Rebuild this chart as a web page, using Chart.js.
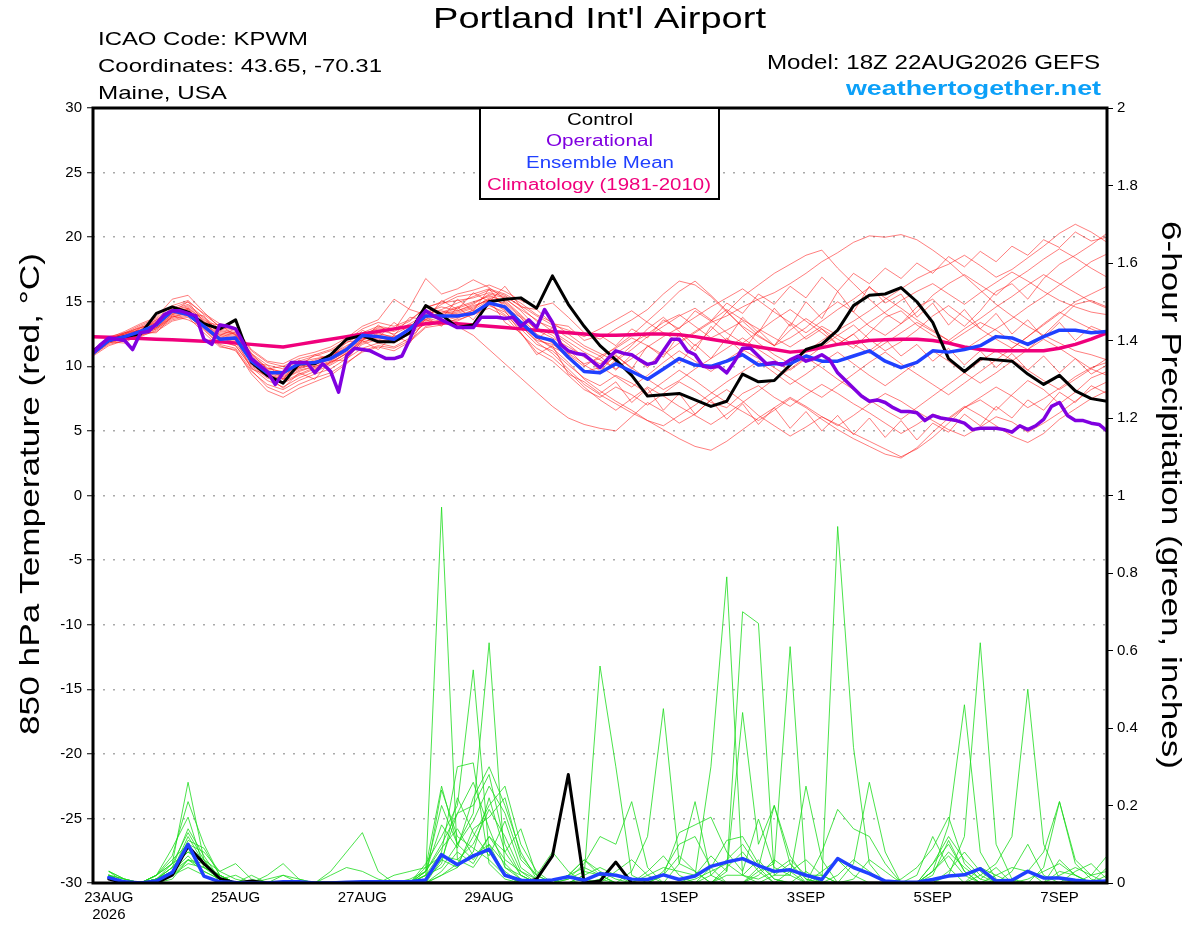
<!DOCTYPE html>
<html>
<head>
<meta charset="utf-8">
<script src="https://cdn.jsdelivr.net/npm/chart.js@4/dist/chart.umd.min.js"></script>
<style>html,body{margin:0;padding:0;background:#fff;}canvas{display:block;}</style>
</head>
<body>
<canvas id="c" width="1200" height="927"></canvas>
<script>
// ---------------- DATA ----------------
// x index: 0 = 18Z 22AUG2026, step 6 h, 64 = 18Z 07SEP2026
const xTickIdx    = [1, 9, 17, 25, 37, 45, 53, 61];
const xTickLabels = ['23AUG','25AUG','27AUG','29AUG','1SEP','3SEP','5SEP','7SEP'];
const xTickSub    = ['2026','','','','','','',''];

// 850 hPa temperature (°C), 6-hourly
const tempControl = [11.2,12.0,12.3,12.5,14.1,14.6,14.2,13.3,
 12.9,13.6,10.3,9.3,8.7,10.2,10.2,10.9,
 12.1,12.4,11.9,11.9,12.6,14.7,14.0,13.0,
 13.2,15.0,15.2,15.3,14.5,17.0,14.8,13.1,
 11.6,10.5,9.3,7.7,7.8,7.9,7.4,6.9,
 7.3,9.4,8.8,8.9,10.1,11.3,11.7,12.8,
 14.7,15.5,15.6,16.1,15.0,13.4,10.6,9.6,
 10.6,10.5,10.4,9.4,8.6,9.3,8.1,7.5,
 7.3];
const tempMean = [11.0,12.0,12.3,12.7,13.2,14.3,14.0,13.1,
 12.1,12.2,10.4,9.5,9.5,10.2,10.3,10.6,
 11.3,12.4,12.3,12.1,12.9,13.9,13.9,13.9,
 14.1,14.9,14.6,13.4,12.3,12.0,10.7,9.6,
 9.5,10.2,9.6,9.0,9.8,10.6,10.1,10.0,
 10.4,10.9,10.1,10.2,10.2,10.8,10.4,10.4,
 10.8,11.2,10.4,9.9,10.3,11.2,11.1,11.3,
 11.6,12.3,12.2,11.7,12.3,12.8,12.8,12.6,
 12.7];
const tempClim = [12.3,12.25,12.2,12.15,12.1,12.05,12.0,11.95,
 11.9,11.8,11.7,11.6,11.5,11.7,11.9,12.1,
 12.3,12.5,12.7,12.9,13.1,13.3,13.4,13.3,
 13.2,13.1,13.0,12.9,12.8,12.7,12.6,12.5,
 12.4,12.4,12.45,12.5,12.5,12.45,12.3,12.1,
 11.9,11.7,11.5,11.3,11.1,11.2,11.45,11.7,
 11.85,12.0,12.05,12.1,12.1,12.0,11.8,11.5,
 11.3,11.2,11.2,11.2,11.2,11.4,11.7,12.1,
 12.6];
// operational run, 3-hourly (index k -> x = k/2)
const tempOper = [11.1,11.7,12.2,12.1,12.0,11.3,12.6,12.7,13.3,14.0,
 14.3,14.3,14.1,13.9,12.1,11.7,13.2,13.1,12.9,11.8,
 10.6,10.1,9.6,8.6,9.5,10.3,10.3,10.3,9.5,10.2,
 9.6,8.0,10.8,11.4,11.3,11.2,10.9,10.6,10.6,10.8,
 12.1,13.6,14.3,13.9,13.6,13.3,13.0,13.0,13.0,13.8,
 13.8,13.8,13.7,13.8,13.1,13.6,13.0,14.4,13.4,11.7,
 11.2,11.0,10.9,10.4,9.9,10.6,11.2,11.0,10.9,10.5,
 10.15,10.3,11.2,12.1,12.1,11.2,10.9,10.0,9.9,10.0,
 9.5,10.4,11.4,11.4,10.8,10.2,10.3,10.1,10.5,10.8,
 10.4,10.6,10.9,10.5,9.5,8.9,8.3,7.7,7.3,7.4,
 7.2,6.8,6.5,6.5,6.4,5.8,6.2,6.0,5.9,5.8,
 5.6,5.1,5.2,5.2,5.2,5.1,4.9,5.4,5.1,5.4,
 5.9,6.9,7.2,6.2,5.8,5.8,5.6,5.5,5.0];

const tempMembers = [
 [11.2,12.1,12.4,12.9,13.4,14.2,14.5,13.6, 12.8,12.5,10.8,9.8,9.6,10.1,10.5,10.9, 11.6,12.2,12.0,11.9,12.6,13.8,14.2,14.6, 15.0,15.4,15.1,14.0,12.8,12.2,11.5,10.8, 10.2,11.0,11.8,12.5,13.4,14.0,13.1,12.2, 12.8,13.5,12.4,11.6,12.2,13.0,14.1,15.0, 14.2,13.1,12.4,13.3,14.6,15.2,14.0,13.1, 14.3,15.8,16.4,15.2,16.8,17.9,18.6,19.4, 20.3],
 [11.0,11.8,12.2,12.5,12.9,13.8,14.1,13.4, 12.2,11.8,10.1,9.2,8.8,9.4,9.9,10.2, 11.0,12.0,12.6,12.2,12.9,13.6,13.2,13.7, 14.4,15.1,14.3,12.6,11.1,10.4,9.3,8.2, 7.6,8.4,7.8,7.0,7.9,8.8,8.1,7.2, 6.8,7.9,8.5,7.6,6.9,7.8,8.6,7.9, 7.1,6.4,5.6,4.8,5.5,6.3,5.9,6.8, 7.4,6.6,7.8,8.9,8.2,7.1,8.0,9.1, 9.6],
 [11.3,12.3,12.6,13.2,13.7,14.7,15.1,14.0, 13.1,12.9,11.2,10.3,10.0,10.6,10.9,11.3, 12.0,12.9,13.4,13.1,13.6,14.5,15.0,15.6, 15.9,16.3,15.8,15.1,14.6,14.9,13.8,12.6, 12.1,12.9,13.6,14.4,15.6,16.6,16.3,15.4, 14.2,13.1,12.3,11.6,12.8,13.7,12.9,12.1, 11.4,12.6,13.8,14.3,13.2,12.4,11.8,12.6, 13.4,12.8,11.9,11.3,12.4,13.6,14.8,15.1, 14.6],
 [10.9,11.7,12.0,12.3,12.8,13.6,13.9,12.9, 11.6,11.2,9.6,8.6,8.2,8.9,9.4,9.8, 10.6,11.4,11.8,11.5,12.2,13.4,13.6,13.1, 12.4,11.3,10.2,9.1,8.0,6.9,6.0,5.5, 5.2,5.0,6.1,7.2,6.5,5.6,6.3,7.4, 8.2,7.3,6.2,5.4,4.6,5.3,6.1,5.5, 4.8,4.2,3.6,3.0,3.6,4.5,5.6,6.8, 7.6,8.4,7.7,6.8,7.5,8.3,9.2,9.9, 10.3],
 [11.1,12.0,12.5,12.8,13.2,14.1,14.4,13.3, 12.4,12.2,10.6,9.6,9.2,9.8,10.2,10.5, 11.1,11.9,12.2,12.0,12.9,14.2,14.6,14.3, 14.8,15.6,15.3,14.3,13.0,12.4,11.3,10.1, 9.4,10.5,11.6,12.9,13.8,12.7,11.6,12.8, 14.2,15.4,16.3,17.2,17.9,18.6,19.0,17.6, 16.4,15.2,14.1,13.3,14.2,15.5,16.4,17.1, 16.3,15.5,16.6,17.4,18.3,19.1,18.4,17.6, 16.9],
 [11.2,12.2,12.5,13.0,13.5,14.4,14.8,13.8, 12.9,12.6,10.9,9.9,9.5,10.3,10.6,10.8, 11.5,12.5,12.9,12.7,13.3,14.0,14.4,14.9, 15.4,15.9,15.5,14.6,13.5,13.0,12.2,11.4, 10.8,11.4,12.2,11.6,10.9,11.8,12.6,13.4, 13.9,14.6,15.2,15.7,16.4,17.2,18.1,18.8, 19.6,20.1,20.0,20.2,19.8,19.0,18.1,17.0, 15.9,14.8,13.9,13.1,12.4,11.8,11.2,10.9, 10.5],
 [11.0,11.9,12.3,12.6,13.0,13.9,14.2,13.2, 12.0,11.6,9.9,8.9,8.4,9.1,9.6,10.1, 10.8,11.7,12.1,11.8,12.5,13.3,13.5,13.8, 14.2,14.8,14.0,12.9,11.7,11.2,10.1,9.1, 8.5,9.3,8.7,7.9,8.8,9.7,8.9,8.0, 7.2,6.5,5.8,6.6,7.5,6.8,5.9,5.1, 4.4,3.8,3.2,2.9,3.7,4.9,6.0,6.9, 6.2,5.4,4.6,4.1,4.8,5.9,6.7,7.5, 8.1],
 [11.2,12.1,12.4,12.7,13.1,14.0,14.3,13.1, 12.3,12.0,10.3,9.4,9.0,9.7,10.0,10.4, 11.2,12.1,12.5,12.3,12.8,13.6,14.0,14.2, 14.6,15.2,14.9,13.8,12.5,11.8,10.6,9.6, 9.9,10.8,9.9,9.0,8.2,8.9,9.8,10.6, 11.4,12.2,11.3,10.5,9.7,10.6,11.5,12.4, 13.2,12.1,11.2,11.9,12.8,13.9,14.7,13.8, 12.9,12.1,11.4,12.3,13.3,14.2,13.5,12.9, 12.4],
 [11.1,12.0,12.4,12.8,13.3,14.3,14.6,13.5, 12.6,12.4,10.5,9.5,9.1,9.9,10.4,10.8, 11.4,12.3,12.8,12.5,13.1,14.1,14.3,14.0, 14.3,14.7,14.2,13.1,12.0,11.7,11.0,10.2, 10.6,11.5,12.4,13.5,14.6,15.8,16.6,15.5, 14.3,13.0,11.8,10.9,10.2,11.1,12.0,12.8, 13.5,14.3,15.2,16.0,16.8,17.4,17.9,18.6, 17.8,16.9,17.5,18.4,19.3,20.3,21.0,20.4, 19.6],
 [10.9,11.8,12.1,12.4,12.9,13.7,14.0,12.8, 11.7,11.4,9.7,8.4,7.9,8.6,9.1,9.5, 10.3,11.1,11.5,11.2,11.9,13.0,13.2,13.5, 14.1,15.0,14.6,13.2,11.9,11.0,9.8,8.6, 7.8,7.1,6.4,5.8,5.1,4.4,3.8,3.5, 4.2,5.1,6.0,6.8,7.6,6.9,6.1,5.4, 6.2,7.1,7.9,7.3,6.5,5.8,5.1,4.6, 5.3,6.1,5.7,4.9,5.6,6.4,7.3,8.2, 8.8],
 [11.3,12.2,12.5,13.1,13.6,14.5,15.0,14.1, 13.3,13.0,11.3,10.4,10.2,10.8,11.1,11.5, 12.2,13.1,13.6,15.2,14.4,14.0,14.8,15.4, 15.6,16.0,15.6,14.9,14.0,13.4,12.5,11.6, 11.0,10.4,11.3,12.3,13.1,13.9,14.5,13.6, 12.6,11.8,12.7,13.6,14.4,13.5,12.6,11.7, 12.5,13.4,14.2,15.1,15.8,16.4,15.6,14.8, 15.7,16.5,17.3,16.6,15.8,15.1,14.6,14.2, 14.0],
 [11.0,11.9,12.2,12.6,13.0,13.8,14.2,13.0, 11.9,11.6,10.0,9.1,8.7,9.3,9.8,10.3, 11.0,11.8,12.3,12.0,12.6,13.5,13.8,14.1, 14.5,15.3,14.8,13.5,12.2,11.4,10.3,9.0, 8.1,7.3,6.6,5.8,5.4,6.2,7.0,7.9, 8.8,9.6,10.4,9.5,8.6,9.4,10.3,11.1, 10.2,9.3,8.5,9.4,10.3,11.2,10.4,9.5, 8.7,9.5,10.4,11.3,12.1,11.4,10.6,9.8, 9.3],
 [11.2,12.0,12.3,12.7,13.2,14.1,14.4,13.3, 12.5,12.3,10.4,9.3,9.0,9.6,10.0,10.3, 11.0,12.1,12.3,11.9,12.7,13.8,14.1,14.5, 14.9,15.5,15.0,13.9,12.8,12.6,11.7,10.7, 10.0,9.2,8.4,9.3,10.3,11.2,10.4,9.6, 10.5,11.3,10.6,9.9,9.1,8.3,7.6,8.5, 9.4,10.3,11.1,10.2,9.4,8.6,7.8,8.7, 9.6,10.5,11.4,12.3,13.2,14.1,15.0,15.6, 16.2],
 [11.1,12.1,12.6,13.0,13.4,14.3,14.7,13.7, 12.7,12.5,10.7,9.7,9.4,10.0,10.3,10.7, 11.3,12.4,13.0,12.8,14.6,16.8,15.6,16.0, 16.7,16.1,15.2,14.4,13.6,12.7,11.9,11.1, 10.5,9.8,10.6,11.5,12.3,13.0,13.8,14.6, 15.3,16.0,15.1,14.2,13.4,12.6,13.5,14.4, 15.2,16.1,15.3,14.5,13.6,12.8,12.0,12.9, 13.7,14.6,15.4,16.3,17.1,16.4,15.7,15.0, 14.5],
 [10.8,11.6,12.0,12.4,12.7,13.5,13.8,12.6, 11.5,11.3,9.4,8.1,7.6,8.3,8.8,9.3, 10.2,11.2,11.6,11.4,12.0,13.1,13.4,13.6, 14.0,14.5,13.9,12.5,11.4,10.7,9.6,8.4, 7.4,6.6,7.5,8.4,7.7,6.9,6.2,5.5, 6.3,7.2,8.1,9.0,9.8,10.7,9.9,9.0, 8.2,7.4,6.6,5.9,6.8,7.7,8.6,9.5, 10.4,11.2,10.5,9.7,8.9,8.2,9.0,9.8, 10.6],
 [11.2,12.2,12.7,13.3,13.8,15.2,15.5,14.2, 13.0,12.8,11.0,10.1,9.8,10.4,10.8,11.2, 11.8,12.6,13.1,12.9,13.5,14.6,14.9,15.1, 15.3,15.7,15.4,14.7,13.9,13.2,12.8,12.3, 12.9,13.6,14.3,13.4,12.6,11.9,12.7,13.5, 14.4,13.6,12.9,12.2,11.5,12.3,13.1,12.4, 11.7,11.0,11.8,12.6,13.4,12.7,12.0,11.3, 12.1,12.9,13.7,14.6,15.4,16.3,17.2,18.1, 18.7],
 [11.1,12.3,12.1,13.0,13.3,14.6,14.1,13.9, 12.4,12.9,10.2,10.1,9.0,10.5,9.7,11.0, 11.2,12.8,12.2,13.4,12.5,14.4,13.7,15.2, 14.3,16.0,14.5,13.8,12.1,13.0,11.0,10.9, 9.6,10.9,9.8,11.6,10.7,12.5,11.2,13.1, 12.0,13.8,12.6,14.5,13.1,15.0,13.7,15.8, 14.2,16.2,14.9,15.6,13.8,14.9,13.2,14.4, 12.9,14.1,12.5,13.6,12.2,13.4,12.0,13.1, 12.6],
 [10.9,11.9,11.8,12.6,12.6,13.9,13.6,13.0, 11.8,12.1,9.8,9.3,8.3,9.5,9.0,10.4, 10.5,12.0,11.3,12.4,11.8,13.8,13.1,14.6, 13.6,15.2,13.4,12.6,10.9,11.6,9.4,8.8, 7.9,8.8,7.2,8.3,6.6,7.9,6.3,7.4, 5.9,7.1,5.5,6.8,5.2,6.5,5.0,6.2, 4.7,6.0,4.5,5.8,4.3,5.6,4.9,6.3, 5.4,6.9,6.0,7.4,6.6,8.0,7.2,8.5, 7.9],
 [11.3,12.0,12.6,12.8,13.6,14.2,15.0,13.4, 13.2,12.4,11.0,9.8,10.0,10.0,10.9,10.6, 11.9,12.0,13.2,12.4,13.8,13.6,15.1,14.4, 15.7,15.0,16.2,14.6,14.4,13.3,13.1,12.0, 12.4,11.6,12.9,12.2,13.6,12.9,14.3,13.5, 14.9,14.1,15.6,14.8,16.2,15.3,16.9,15.8, 17.2,16.4,17.6,16.8,18.0,17.2,18.5,17.7, 18.9,18.1,19.3,18.6,19.8,19.2,20.4,19.7, 20.0],
 [11.0,12.1,12.3,12.5,13.0,14.0,14.5,13.2, 12.2,12.7,10.6,9.6,9.3,9.9,10.1,10.6, 11.3,12.2,12.4,12.2,13.0,13.9,14.1,14.3, 14.7,15.1,14.4,13.2,12.2,11.5,10.9,10.0, 10.8,9.7,10.9,9.9,11.3,10.2,11.7,10.6, 12.2,11.1,12.8,11.6,13.3,12.1,12.9,11.7, 12.5,11.2,12.1,10.8,11.7,10.4,11.4,10.1, 11.2,9.9,11.0,9.7,10.8,9.5,10.6,9.4, 10.1]
];

// 6-hour precipitation (inches); index 0 has no value
const precipControl = [null, 0.01,0,0,0,0.02,0.095,0.05,0.012, 0,0.005,0,0,0,0,0,0, 0,0,0,0,0,0,0,0, 0,0,0,0.01,0.07,0.28,0,0.005, 0.054,0,0,0,0,0,0,0, 0,0,0,0,0,0,0,0, 0,0,0,0,0,0,0,0, 0,0,0,0,0,0,0,0];
const precipMean = [null, 0.014,0.003,0,0.005,0.027,0.10,0.018,0.003, 0.001,0,0,0.003,0.003,0,0,0.002, 0.003,0.003,0.003,0.003,0.008,0.073,0.047,0.07, 0.087,0.02,0.007,0.005,0.008,0.016,0.007,0.024, 0.02,0.01,0.009,0.021,0.009,0.018,0.043,0.054, 0.063,0.045,0.03,0.034,0.02,0.009,0.063,0.04, 0.024,0.005,0.002,0.002,0.009,0.018,0.021,0.037, 0.005,0.007,0.03,0.013,0.013,0.007,0.003,0.005];
const precipMembers = [
 [null, 0.02,0,0,0.01,0.05,0.26,0.06,0, 0,0,0,0,0,0,0,0, 0,0,0,0,0.02,0.97,0.06,0.04, 0.1,0.02,0,0,0,0,0,0.01, 0,0,0,0,0.05,0.21,0.02,0, 0,0,0,0,0.03,0,0,0, 0,0,0,0,0,0,0,0, 0,0,0,0,0.06,0.02,0,0],
 [null, 0.03,0.01,0,0.02,0.09,0.17,0.04,0.01, 0.02,0,0,0,0,0,0,0, 0,0,0,0,0.05,0.12,0.2,0.55, 0.08,0.03,0,0,0,0,0.02,0.56, 0.3,0.02,0,0,0,0,0,0, 0,0,0.02,0.05,0.01,0,0,0, 0,0,0,0,0,0,0,0.02, 0.05,0.12,0.5,0.1,0.01,0,0,0],
 [null, 0.02,0,0,0.01,0.03,0.12,0.05,0.02, 0,0,0,0,0,0,0,0, 0,0,0.02,0.03,0.04,0.25,0.1,0.18, 0.62,0.04,0.02,0,0,0,0,0, 0,0,0.02,0.04,0.03,0.02,0.3,0.79, 0.02,0.06,0.01,0,0,0,0,0, 0,0,0,0,0.03,0.08,0.04,0.01, 0.04,0,0,0,0,0,0,0.02],
 [null, 0.01,0,0,0.02,0.06,0.1,0.08,0.03, 0.05,0.01,0,0,0,0,0,0, 0,0,0,0,0.02,0.08,0.3,0.31, 0.05,0.01,0,0,0,0.02,0.06,0.02, 0,0,0,0,0,0.02,0.07,0.03, 0.7,0.67,0.02,0.02,0,0,0,0, 0,0,0,0,0,0.02,0.12,0.62, 0.1,0.01,0,0,0,0,0,0],
 [null, 0.02,0,0,0,0.03,0.07,0.03,0.01, 0,0,0,0,0,0,0.03,0.08, 0.13,0.03,0,0,0.01,0.24,0.12,0.09, 0.06,0.02,0,0,0,0,0,0, 0,0.03,0.12,0.45,0.05,0.03,0,0, 0,0.04,0.2,0.07,0.01,0,0,0, 0,0,0.01,0.04,0.09,0.17,0.05,0.01, 0,0,0,0,0,0,0,0],
 [null, 0.03,0.01,0,0.01,0.04,0.09,0.02,0, 0,0.02,0,0,0,0,0,0, 0,0,0,0,0,0.06,0.18,0.26, 0.14,0.04,0.01,0,0,0,0,0, 0,0,0,0,0,0,0,0.02, 0.02,0.01,0.03,0.06,0.02,0,0.92,0.35, 0.05,0,0,0,0,0,0,0, 0,0,0.03,0.08,0.21,0.06,0.02,0.03],
 [null, 0.01,0,0,0.01,0.02,0.05,0.04,0.02, 0,0,0.02,0.05,0.01,0,0,0, 0,0,0,0,0.02,0.04,0.1,0.16, 0.25,0.18,0.06,0.02,0,0,0.01,0, 0,0,0,0,0,0,0,0, 0,0.03,0.05,0.61,0.02,0.02,0,0.05, 0.26,0.08,0,0,0.03,0.15,0.46,0.08, 0.01,0,0,0,0,0,0,0],
 [null, 0.02,0,0,0,0.01,0.06,0.05,0.01, 0,0,0,0,0,0,0,0, 0,0,0,0.01,0.03,0.15,0.09,0.22, 0.3,0.2,0.08,0.01,0,0.02,0.06,0.03, 0.01,0,0,0.02,0.13,0.15,0.17,0.08, 0.03,0.165,0.04,0.02,0.25,0.06,0,0, 0,0,0,0,0.02,0.11,0.03,0, 0,0,0,0.04,0.21,0.05,0.01,0],
 [null, 0.01,0,0,0.01,0.04,0.14,0.07,0.01, 0,0,0,0.02,0,0,0,0, 0,0,0,0,0,0.02,0.05,0.12, 0.2,0.25,0.1,0.03,0,0.01,0.05,0.12, 0.1,0.21,0.04,0,0,0,0,0.03, 0.44,0.1,0.2,0.05,0,0.08,0.19,0.14, 0.12,0.05,0,0,0,0,0,0, 0,0.03,0.1,0.02,0,0,0,0],
 [null, 0.02,0.01,0,0.02,0.05,0.08,0.06,0.03, 0.01,0,0,0,0,0,0,0, 0,0,0,0,0.04,0.07,0.06,0.1, 0.19,0.12,0.03,0,0,0,0,0, 0,0,0,0,0,0,0.04,0.11, 0.12,0.05,0.01,0,0,0,0,0, 0,0,0,0,0.03,0.07,0.02,0, 0,0,0,0,0,0,0.02,0.07],
 [null, 0.01,0,0,0,0.02,0.04,0.02,0, 0,0,0,0,0,0,0,0, 0,0,0,0,0,0.03,0.08,0.05, 0.12,0.08,0.14,0.02,0.08,0.03,0,0, 0,0,0,0.02,0.07,0.03,0,0, 0,0,0,0,0,0.03,0.06,0.02, 0,0,0,0.02,0.12,0.04,0,0, 0.02,0.04,0.03,0,0,0,0,0],
 [null, 0.02,0,0,0.01,0.03,0.11,0.09,0.02, 0,0,0.01,0.02,0.01,0,0,0, 0,0,0,0,0,0.02,0.04,0.08, 0.22,0.08,0.02,0,0,0,0.02,0.04, 0.02,0,0,0,0,0.01,0.03,0.05, 0.02,0,0,0.03,0.06,0.02,0,0, 0,0,0,0,0,0,0,0, 0,0,0.01,0.03,0.05,0.02,0,0],
 [null, 0.03,0,0,0.02,0.07,0.21,0.1,0.02, 0,0,0,0,0,0,0.02,0.04, 0.03,0.01,0,0,0.03,0.09,0.14,0.07, 0.1,0.05,0.01,0,0,0,0,0, 0,0,0,0,0,0,0,0, 0,0.02,0.06,0.03,0,0,0,0, 0,0,0,0,0.05,0.1,0.03,0, 0,0,0,0,0.03,0.02,0,0],
 [null, 0.02,0.01,0,0.01,0.02,0.06,0.03,0.01, 0,0,0,0,0,0,0,0, 0,0,0,0,0.01,0.05,0.22,0.13, 0.07,0.16,0.04,0.01,0,0.01,0.03,0.02, 0,0,0.03,0.07,0.02,0,0,0, 0,0,0,0,0,0,0,0.01, 0.06,0.03,0,0,0,0,0,0.04, 0.02,0,0,0,0,0,0,0.04],
 [null, 0.02,0,0,0.01,0.04,0.08,0.05,0.01, 0,0,0,0,0,0,0,0, 0,0,0,0,0.03,0.1,0.18,0.2, 0.28,0.1,0.02,0,0,0,0,0, 0.03,0.06,0.02,0,0,0,0,0.04, 0.08,0.03,0,0,0,0,0,0, 0,0,0,0,0.05,0.12,0.06,0.02, 0,0,0,0,0,0,0,0],
 [null, 0.01,0,0,0.01,0.03,0.06,0.04,0.02, 0,0,0,0,0,0,0,0, 0,0,0,0,0.02,0.06,0.04,0.14, 0.17,0.22,0.07,0.02,0,0,0,0, 0,0,0,0.03,0.1,0.12,0.04,0, 0,0,0,0,0,0,0,0, 0,0,0,0,0,0.03,0.08,0.03, 0,0,0,0,0,0.03,0.05,0.01],
 [null, 0.02,0,0,0.02,0.05,0.13,0.06,0.01, 0,0,0,0,0,0,0,0, 0,0,0,0,0.03,0.2,0.1,0.06, 0.12,0.06,0.03,0.01,0,0.02,0.04,0.02, 0,0,0,0,0,0,0.02,0.06, 0.1,0.04,0,0,0,0,0.02,0.06, 0.03,0,0,0,0,0,0,0, 0,0,0,0,0.02,0.04,0.02,0]
];

// ---------------- CHART ----------------
const FONT = '"Liberation Sans", Arial, Helvetica, sans-serif';
Chart.defaults.font.family = FONT;

const pts6 = arr => arr.map((v, i) => ({x: i, y: v}));
const pts3 = arr => arr.map((v, k) => ({x: k / 2, y: v}));

const datasets = [];
tempMembers.forEach(m => datasets.push({data: pts6(m), yAxisID: 'y', borderColor: 'rgba(255,20,20,0.55)', borderWidth: 1, order: 100}));
precipMembers.forEach(m => datasets.push({data: pts6(m), yAxisID: 'y2', borderColor: 'rgba(30,220,30,0.8)', borderWidth: 1, order: 90}));
datasets.push({data: pts6(precipControl), yAxisID: 'y2', borderColor: '#000', borderWidth: 3, order: 40});
datasets.push({data: pts6(precipMean), yAxisID: 'y2', borderColor: '#2040ff', borderWidth: 3.5, order: 30});
datasets.push({data: pts6(tempClim), yAxisID: 'y', borderColor: '#f0007c', borderWidth: 3.5, order: 25});
datasets.push({data: pts6(tempControl), yAxisID: 'y', borderColor: '#000', borderWidth: 3, order: 20});
datasets.push({data: pts6(tempMean), yAxisID: 'y', borderColor: '#2040ff', borderWidth: 3.5, order: 10});
datasets.push({data: pts3(tempOper), yAxisID: 'y', borderColor: '#8000e0', borderWidth: 3.5, order: 5});

function drawText(ctx, s, x, y, size, width, align, color, bold, rot) {
  ctx.save();
  ctx.translate(x, y);
  if (rot) ctx.rotate(rot);
  ctx.font = (bold ? 'bold ' : '') + size + 'px ' + FONT;
  const m = ctx.measureText(s).width;
  ctx.scale(width / m, 1);
  ctx.textBaseline = 'middle';
  ctx.textAlign = align;
  ctx.fillStyle = color;
  ctx.fillText(s, 0, 0);
  ctx.restore();
}

const decor = {
  id: 'decor',
  beforeDraw(chart) {
    const ctx = chart.ctx;
    ctx.save(); ctx.fillStyle = '#fff'; ctx.fillRect(0, 0, chart.width, chart.height); ctx.restore();
  },
  afterDraw(chart) {
    const ctx = chart.ctx, a = chart.chartArea;
    ctx.save();
    ctx.strokeStyle = '#000'; ctx.lineWidth = 3;
    ctx.strokeRect(a.left, a.top, a.right - a.left, a.bottom - a.top);
    // legend box
    ctx.fillStyle = '#fff'; ctx.fillRect(480, a.top, 239, 91);
    ctx.lineWidth = 2; ctx.strokeRect(480, a.top, 239, 91);
    ctx.restore();
    drawText(ctx, 'Control', 600, 121, 16, 66, 'center', '#000');
    drawText(ctx, 'Operational', 599.5, 142, 16, 107, 'center', '#8000e0');
    drawText(ctx, 'Ensemble Mean', 600, 163.5, 16, 148, 'center', '#2040ff');
    drawText(ctx, 'Climatology (1981-2010)', 599, 185.5, 16, 224, 'center', '#f0007c');
    // header
    drawText(ctx, "Portland Int'l Airport", 599.5, 20, 30, 333, 'center', '#000');
    drawText(ctx, 'ICAO Code: KPWM', 98, 40, 19, 210, 'left', '#000');
    drawText(ctx, 'Coordinates: 43.65, -70.31', 98, 67, 19, 284, 'left', '#000');
    drawText(ctx, 'Maine, USA', 98, 94, 19, 129, 'left', '#000');
    drawText(ctx, 'Model: 18Z 22AUG2026 GEFS', 1100, 64, 19.5, 333, 'right', '#000');
    drawText(ctx, 'weathertogether.net', 1101, 89, 20, 255, 'right', '#0ca0f8', true);
    // axis titles
    drawText(ctx, '850 hPa Temperature (red, \u00B0C)', 31, 494, 28, 482, 'center', '#000', false, -Math.PI / 2);
    drawText(ctx, '6-hour Precipitation (green, inches)', 1170, 495, 28, 548, 'center', '#000', false, Math.PI / 2);
  }
};

new Chart(document.getElementById('c'), {
  type: 'line',
  data: {datasets},
  options: {
    responsive: false,
    animation: false,
    devicePixelRatio: 1,
    layout: {padding: {top: 108, left: 0, right: 0, bottom: 0}},
    plugins: {legend: {display: false}, tooltip: {enabled: false}, title: {display: false}},
    elements: {point: {radius: 0}, line: {tension: 0, borderJoinStyle: 'round', borderCapStyle: 'round'}},
    scales: {
      x: {
        type: 'linear', min: 0, max: 64,
        afterBuildTicks: s => { s.ticks = xTickIdx.map(v => ({value: v})); },
        afterFit: s => { s.height = 44; },
        ticks: {
          autoSkip: false, maxRotation: 0, minRotation: 0, padding: 6, color: '#000',
          font: {size: 15, family: FONT, lineHeight: 1.15},
          callback: v => {
            const j = xTickIdx.indexOf(v);
            if (j < 0) return '';
            return xTickSub[j] ? [xTickLabels[j], xTickSub[j]] : xTickLabels[j];
          }
        },
        grid: {display: false, drawTicks: false},
        border: {display: false}
      },
      y: {
        position: 'left', min: -30, max: 30,
        afterFit: s => { s.width = 93; },
        ticks: {stepSize: 5, padding: 5, color: '#000', font: {size: 15, family: FONT}, callback: v => String(v)},
        grid: {color: '#aaaaaa', lineWidth: 1.5, drawTicks: true, tickLength: 6, tickColor: '#000', tickWidth: 1, tickBorderDash: []},
        border: {display: false, dash: [2, 8]}
      },
      y2: {
        position: 'right', min: 0, max: 2,
        afterFit: s => { s.width = 93; },
        ticks: {stepSize: 0.2, padding: 4, color: '#000', font: {size: 15, family: FONT}, callback: v => String(Number(v.toFixed(1)))},
        grid: {drawOnChartArea: false, drawTicks: true, tickLength: 6, tickColor: '#000', tickWidth: 1},
        border: {display: false}
      }
    }
  },
  plugins: [decor]
});
</script>
</body>
</html>
